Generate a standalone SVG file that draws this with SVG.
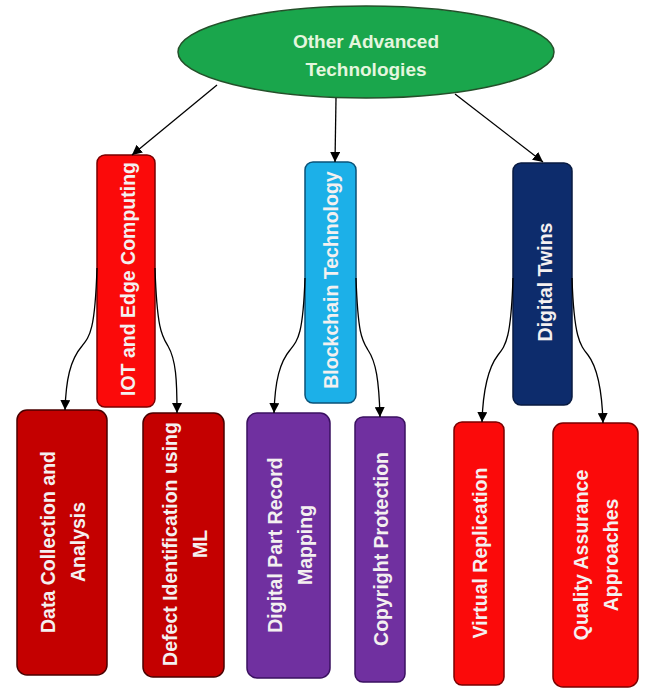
<svg xmlns="http://www.w3.org/2000/svg" width="646" height="689" viewBox="0 0 646 689">
<defs>
<marker id="ah" viewBox="0 0 10 10" refX="10" refY="5" markerWidth="10" markerHeight="10" markerUnits="userSpaceOnUse" orient="auto">
<path d="M0,0 L10,5 L0,10 z" fill="#000"/>
</marker>
</defs>
<style>
.lbl{font-family:"Liberation Sans",Arial,sans-serif;font-weight:bold;font-size:19.5px;fill:#f4f0f0;text-anchor:middle;dominant-baseline:central}
.top{fill:#e4f6de;font-size:19px}
.box{stroke-width:1.5}
.conn path{fill:none;stroke:#000;stroke-width:1.3;marker-end:url(#ah)}
</style>
<rect width="646" height="689" fill="#fff"/>
<g id="root">
<ellipse cx="366" cy="52" rx="188" ry="46" fill="#1aa64c" stroke="#24502a" stroke-width="1.5"/>
<text class="lbl top" x="366" y="41">Other Advanced</text>
<text class="lbl top" x="366" y="69">Technologies</text>
</g>
<g id="iot">
<rect class="box" x="97" y="155" width="58" height="252" rx="8" fill="#fb0a0a" stroke="#7a0000"/>
<text class="lbl" transform="translate(128,279) rotate(-90)">IOT and Edge Computing</text>
</g>
<g id="blockchain">
<rect class="box" x="305" y="162" width="51" height="241" rx="8" fill="#1cb0e8" stroke="#0a5278"/>
<text class="lbl" transform="translate(331,280) rotate(-90)">Blockchain Technology</text>
</g>
<g id="twins">
<rect class="box" x="513" y="163" width="59" height="242" rx="8" fill="#0d2c6c" stroke="#081a40"/>
<text class="lbl" transform="translate(545,282) rotate(-90)">Digital Twins</text>
</g>
<g id="data">
<rect class="box" x="17" y="410" width="90" height="265" rx="10" fill="#c40000" stroke="#4a0000"/>
<text class="lbl" transform="translate(63,542) rotate(-90)"><tspan x="0" y="-15">Data Collection and</tspan><tspan x="0" y="15">Analysis</tspan></text>
</g>
<g id="defect">
<rect class="box" x="143" y="413" width="81" height="264" rx="10" fill="#c40000" stroke="#4a0000"/>
<text class="lbl" transform="translate(185,544) rotate(-90)"><tspan x="0" y="-15">Defect Identification using</tspan><tspan x="0" y="15">ML</tspan></text>
</g>
<g id="dprm">
<rect class="box" x="247" y="413" width="83" height="265" rx="10" fill="#7030a0" stroke="#3a1060"/>
<text class="lbl" transform="translate(290,545) rotate(-90)"><tspan x="0" y="-15">Digital Part Record</tspan><tspan x="0" y="15">Mapping</tspan></text>
</g>
<g id="copyright">
<rect class="box" x="355" y="417" width="50" height="265" rx="8" fill="#7030a0" stroke="#3a1060"/>
<text class="lbl" transform="translate(381,549) rotate(-90)">Copyright Protection</text>
</g>
<g id="virtual">
<rect class="box" x="454" y="422" width="50" height="263" rx="8" fill="#fb0a0a" stroke="#7a0000"/>
<text class="lbl" transform="translate(480,553) rotate(-90)">Virtual Replication</text>
</g>
<g id="qa">
<rect class="box" x="553" y="423" width="85" height="264" rx="10" fill="#fb0a0a" stroke="#7a0000"/>
<text class="lbl" transform="translate(596,555) rotate(-90)"><tspan x="0" y="-15">Quality Assurance</tspan><tspan x="0" y="15">Approaches</tspan></text>
</g>
<g id="connectors" class="conn">
<path d="M217,85 L132,155"/>
<path d="M336,98 L335,162"/>
<path d="M455,94 L543,162"/>
<path d="M97,268 C95,330 90,336 82,346 C70,360 66,380 65,410"/>
<path d="M155,268 C157,330 162,336 168,346 C176,360 177,380 177,413"/>
<path d="M305,278 C303,335 298,340 290,350 C280,362 275,380 274,413"/>
<path d="M356,278 C358,335 362,340 368,350 C376,362 379,380 380,417"/>
<path d="M513,278 C511,338 506,345 498,355 C488,368 483,390 482,422"/>
<path d="M572,278 C574,338 580,345 588,355 C598,368 602,390 603,423"/>
</g>
</svg>
